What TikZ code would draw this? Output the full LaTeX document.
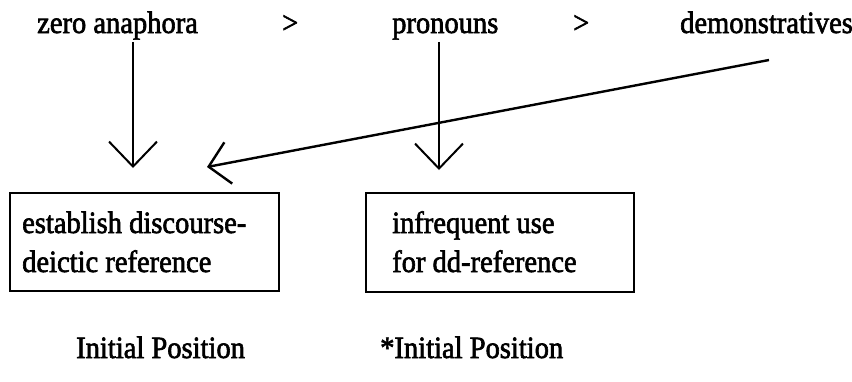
\documentclass[tikz,border=0pt]{standalone}
\usepackage{fontspec}
\setmainfont{Liberation Serif}[FakeStretch=0.92,FakeBold=2]
\usetikzlibrary{arrows.meta}
\begin{document}
\begin{tikzpicture}[x=1pt,y=-1pt,
  lbl/.style={inner sep=0pt, anchor=base west, font=\fontsize{31}{39}\selectfont},
  boxframe/.style={draw, line width=2pt, inner sep=0pt},
  downarrow/.style={line width=2pt, -{Straight Barb[length=25pt,width=48pt]}},
  slantarrow/.style={line width=2.4pt, -{Straight Barb[length=20pt,width=42pt]}}]
\useasboundingbox (0,0) rectangle (852,381);

% hierarchy of referring forms
\node[lbl] (zero) at (37,33) {zero anaphora};
\node[lbl] (gtA)  at (282,33) {>};
\node[lbl] (pron) at (392,33) {pronouns};
\node[lbl] (gtB)  at (573,33) {>};
\node[lbl] (demo) at (680,33) {demonstratives};

% functional boxes
\node[boxframe, minimum width=269pt, minimum height=98pt] (boxA) at (144.5,242) {};
\node[boxframe, minimum width=268pt, minimum height=99pt] (boxB) at (500,242.5) {};
\node[lbl] (boxAa) at (22,233) {establish discourse-};
\node[lbl] (boxAb) at (22,272) {deictic reference};
\node[lbl] (boxBa) at (392,233) {infrequent use};
\node[lbl] (boxBb) at (392,272) {for dd-reference};

% positional constraints
\node[lbl] (posA) at (76,358) {Initial Position};
\node[lbl] (posB) at (380,358) {*Initial Position};

% arrow end points
\coordinate (tipA) at (133,168);
\coordinate (tipB) at (439,170);
\coordinate (demoStart) at (769,60);
\coordinate (tipC) at (207,167);

\draw[downarrow] (zero.south -| tipA) ++(0,2) -- (tipA);
\draw[downarrow] (pron.south -| tipB) ++(0,2) -- (tipB);
\draw[slantarrow] (demoStart) -- (tipC);
\end{tikzpicture}
\end{document}
